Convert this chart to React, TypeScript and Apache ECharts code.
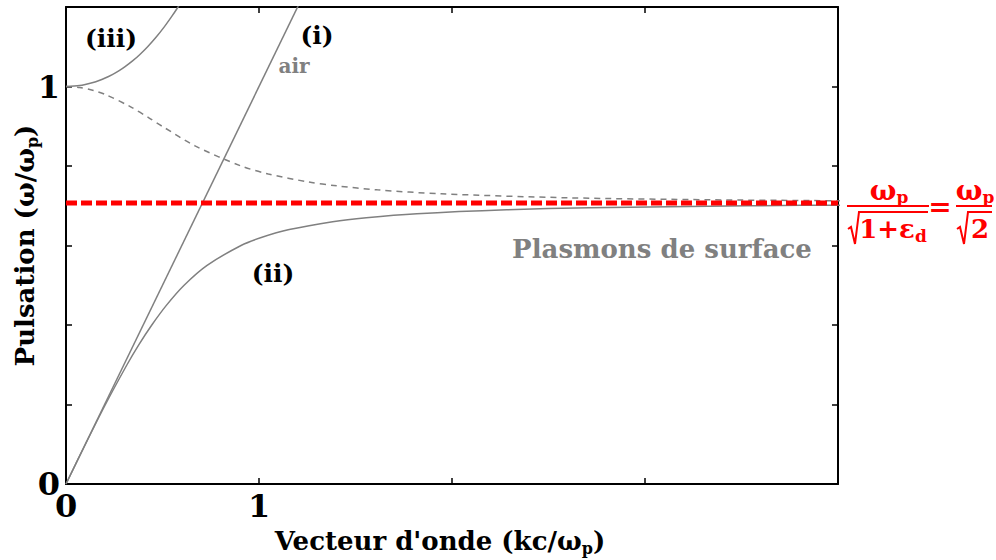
import React, { useEffect, useRef } from "react";
import * as echarts from "echarts";

// Air light line (i): k = ω
const airK = [0, 1.25];
const airW = [0, 1.25];

// Surface plasmon branch (ii)
const lowerK = [0, 0.1005, 0.2043, 0.316, 0.377, 0.4446, 0.521, 0.612, 0.731, 0.907, 1.0117, 1.1565, 1.3816, 1.556, 1.818, 2.284, 2.712, 3.535, 4.166];
const lowerW = [0, 0.1, 0.2, 0.3, 0.35, 0.4, 0.45, 0.5, 0.55, 0.6, 0.62, 0.64, 0.66, 0.67, 0.68, 0.69, 0.695, 0.7, 0.702];

// Upper branch (iii)
const upperK = [0, 0.0705, 0.0996, 0.1404, 0.1714, 0.1972, 0.24, 0.2755, 0.3062, 0.3464, 0.3816, 0.423, 0.4686, 0.5092, 0.5462, 0.5805, 0.6064];
const upperW = [1, 1.0025, 1.005, 1.01, 1.015, 1.02, 1.03, 1.04, 1.05, 1.065, 1.08, 1.1, 1.125, 1.15, 1.175, 1.2, 1.22];

// Dashed gray branch (imaginary k)
const dashK = [0, 0.0709, 0.1425, 0.2032, 0.3306, 0.4332, 0.4982, 0.6712, 0.9071, 1.0483, 1.2538, 1.4031, 1.613, 1.945, 2.6047, 3.336, 3.864, 4.04];
const dashW = [1, 0.9975, 0.99, 0.98, 0.95, 0.92, 0.9, 0.85, 0.8, 0.78, 0.76, 0.75, 0.74, 0.73, 0.72, 0.715, 0.713, 0.7125];

// Surface plasmon asymptote ωp/√2
const asymK = [0, 4];
const asymW = [0.7071, 0.7071];

const xShownTicks = [0, 1];
const yShownTicks = [0, 1];

const FONT = "'DejaVu Serif', serif";
const GRAY = "#808080";
const RED = "#ff0000";

const zip = (a: number[], b: number[]) => a.map((v, i) => [v, b[i]]);

export default function App() {
  const ref = useRef<HTMLDivElement>(null);
  useEffect(() => {
    if (!ref.current) return;
    const chart = echarts.init(ref.current, null, { renderer: "svg" });
    const axisLine = { show: true, onZero: false, lineStyle: { color: "#000", width: 2 } };
    const tick = { show: true, inside: true, length: 6, lineStyle: { color: "#000", width: 1.5 } };
    const labelStyle = { fontSize: 32, fontWeight: "bold" as const, fontFamily: FONT, color: "#000" };
    const nameRich = {
      b: { fontSize: 26, fontWeight: "bold", fontFamily: FONT, color: "#000", lineHeight: 30 },
      s: { fontSize: 16, fontWeight: "bold", fontFamily: FONT, color: "#000", lineHeight: 14, verticalAlign: "bottom" },
    };
    const redRich = {
      b: { fontSize: 28, fontWeight: "bold", fontFamily: FONT, fill: RED, lineHeight: 30 },
      m: { fontSize: 26, fontWeight: "bold", fontFamily: FONT, fill: RED, lineHeight: 30 },
      s: { fontSize: 17, fontWeight: "bold", fontFamily: FONT, fill: RED, lineHeight: 14, verticalAlign: "bottom" },
    };
    const lineSeries = (data: number[][], color: string, width: number, type: any, z = 2) => ({
      type: "line",
      data,
      showSymbol: false,
      symbol: "none",
      smooth: 0.3,
      clip: true,
      z,
      lineStyle: { color, width, type },
    });
    chart.setOption({
      animation: false,
      grid: { left: 66, top: 7, right: 158, bottom: 76, containLabel: false, outerBoundsMode: "none" },
      xAxis: [
        {
          type: "value", min: 0, max: 4, interval: 1, position: "bottom",
          axisLine, axisTick: tick, splitLine: { show: false },
          axisLabel: {
            ...labelStyle, margin: 6,
            formatter: (v: number) => (xShownTicks.some((t) => Math.abs(t - v) < 1e-9) ? String(v) : ""),
          },
          name: "{b|Vecteur d'onde (kc/ω}{s|p}{b|)}",
          nameLocation: "middle", nameGap: 42, nameMoveOverlap: false,
          nameTextStyle: { rich: nameRich, padding: [0, 24, 0, 0] },
        },
        {
          type: "value", min: 0, max: 4, interval: 1, position: "top",
          axisLine, axisTick: tick, axisLabel: { show: false }, splitLine: { show: false },
        },
      ],
      yAxis: [
        {
          type: "value", min: 0, max: 1.2, interval: 0.2, position: "left",
          axisLine, axisTick: tick, splitLine: { show: false },
          axisLabel: {
            ...labelStyle, margin: 6,
            formatter: (v: number) => (yShownTicks.some((t) => Math.abs(t - v) < 1e-9) ? String(Math.round(v)) : ""),
          },
          name: "{b|Pulsation (ω/ω}{s|p}{b|)}",
          nameLocation: "middle", nameGap: 26, nameRotate: 90, nameMoveOverlap: false,
          nameTextStyle: { rich: nameRich },
        },
        {
          type: "value", min: 0, max: 1.2, interval: 0.2, position: "right",
          axisLine, axisTick: tick, axisLabel: { show: false }, splitLine: { show: false },
        },
      ],
      series: [
        lineSeries(zip(airK, airW), GRAY, 1.5, "solid"),
        lineSeries(zip(lowerK, lowerW), GRAY, 1.5, "solid"),
        lineSeries(zip(upperK, upperW), GRAY, 1.5, "solid"),
        lineSeries(zip(dashK, dashW), GRAY, 1.5, [6, 5]),
        { ...lineSeries(zip(asymK, asymW), RED, 5, [11, 4], 5), smooth: false },
      ],
      graphic: [
        { type: "text", x: 111, y: 38, style: { text: "(iii)", fontSize: 25, fontWeight: "bold", fontFamily: FONT, fill: "#000", align: "center", verticalAlign: "middle" } },
        { type: "text", x: 317, y: 35, style: { text: "(i)", fontSize: 25, fontWeight: "bold", fontFamily: FONT, fill: "#000", align: "center", verticalAlign: "middle" } },
        { type: "text", x: 294, y: 66, style: { text: "air", fontSize: 20, fontWeight: "bold", fontFamily: FONT, fill: GRAY, align: "center", verticalAlign: "middle" } },
        { type: "text", x: 273, y: 273, style: { text: "(ii)", fontSize: 25, fontWeight: "bold", fontFamily: FONT, fill: "#000", align: "center", verticalAlign: "middle" } },
        { type: "text", x: 662, y: 249, style: { text: "Plasmons de surface", fontSize: 26, fontWeight: "bold", fontFamily: FONT, fill: GRAY, align: "center", verticalAlign: "middle" } },
        // formula
        { type: "text", x: 889, y: 190, style: { text: "{b|ω}{s|p}", rich: redRich, align: "center", verticalAlign: "middle" } },
        { type: "line", shape: { x1: 847, y1: 206, x2: 929, y2: 206 }, style: { stroke: RED, lineWidth: 2 } },
        { type: "polyline", shape: { points: [[848, 229], [851, 227], [855, 244], [859, 212], [928, 212]] }, style: { stroke: RED, lineWidth: 2, fill: null } },
        { type: "text", x: 893, y: 229, style: { text: "{m|1+ε}{s|d}", rich: redRich, align: "center", verticalAlign: "middle" } },
        { type: "text", x: 940, y: 206, style: { text: "=", fontSize: 28, fontWeight: "bold", fontFamily: FONT, fill: RED, align: "center", verticalAlign: "middle" } },
        { type: "text", x: 975, y: 190, style: { text: "{b|ω}{s|p}", rich: redRich, align: "center", verticalAlign: "middle" } },
        { type: "line", shape: { x1: 956, y1: 206, x2: 992, y2: 206 }, style: { stroke: RED, lineWidth: 2 } },
        { type: "polyline", shape: { points: [[957, 229], [960, 227], [964, 244], [968, 212], [992, 212]] }, style: { stroke: RED, lineWidth: 2, fill: null } },
        { type: "text", x: 980, y: 229, style: { text: "2", fontSize: 26, fontWeight: "bold", fontFamily: FONT, fill: RED, align: "center", verticalAlign: "middle" } },
      ],
    });
    return () => chart.dispose();
  }, []);
  return <div ref={ref} style={{ width: 996, height: 560, position: "absolute", left: 0, top: 0 }} />;
}
